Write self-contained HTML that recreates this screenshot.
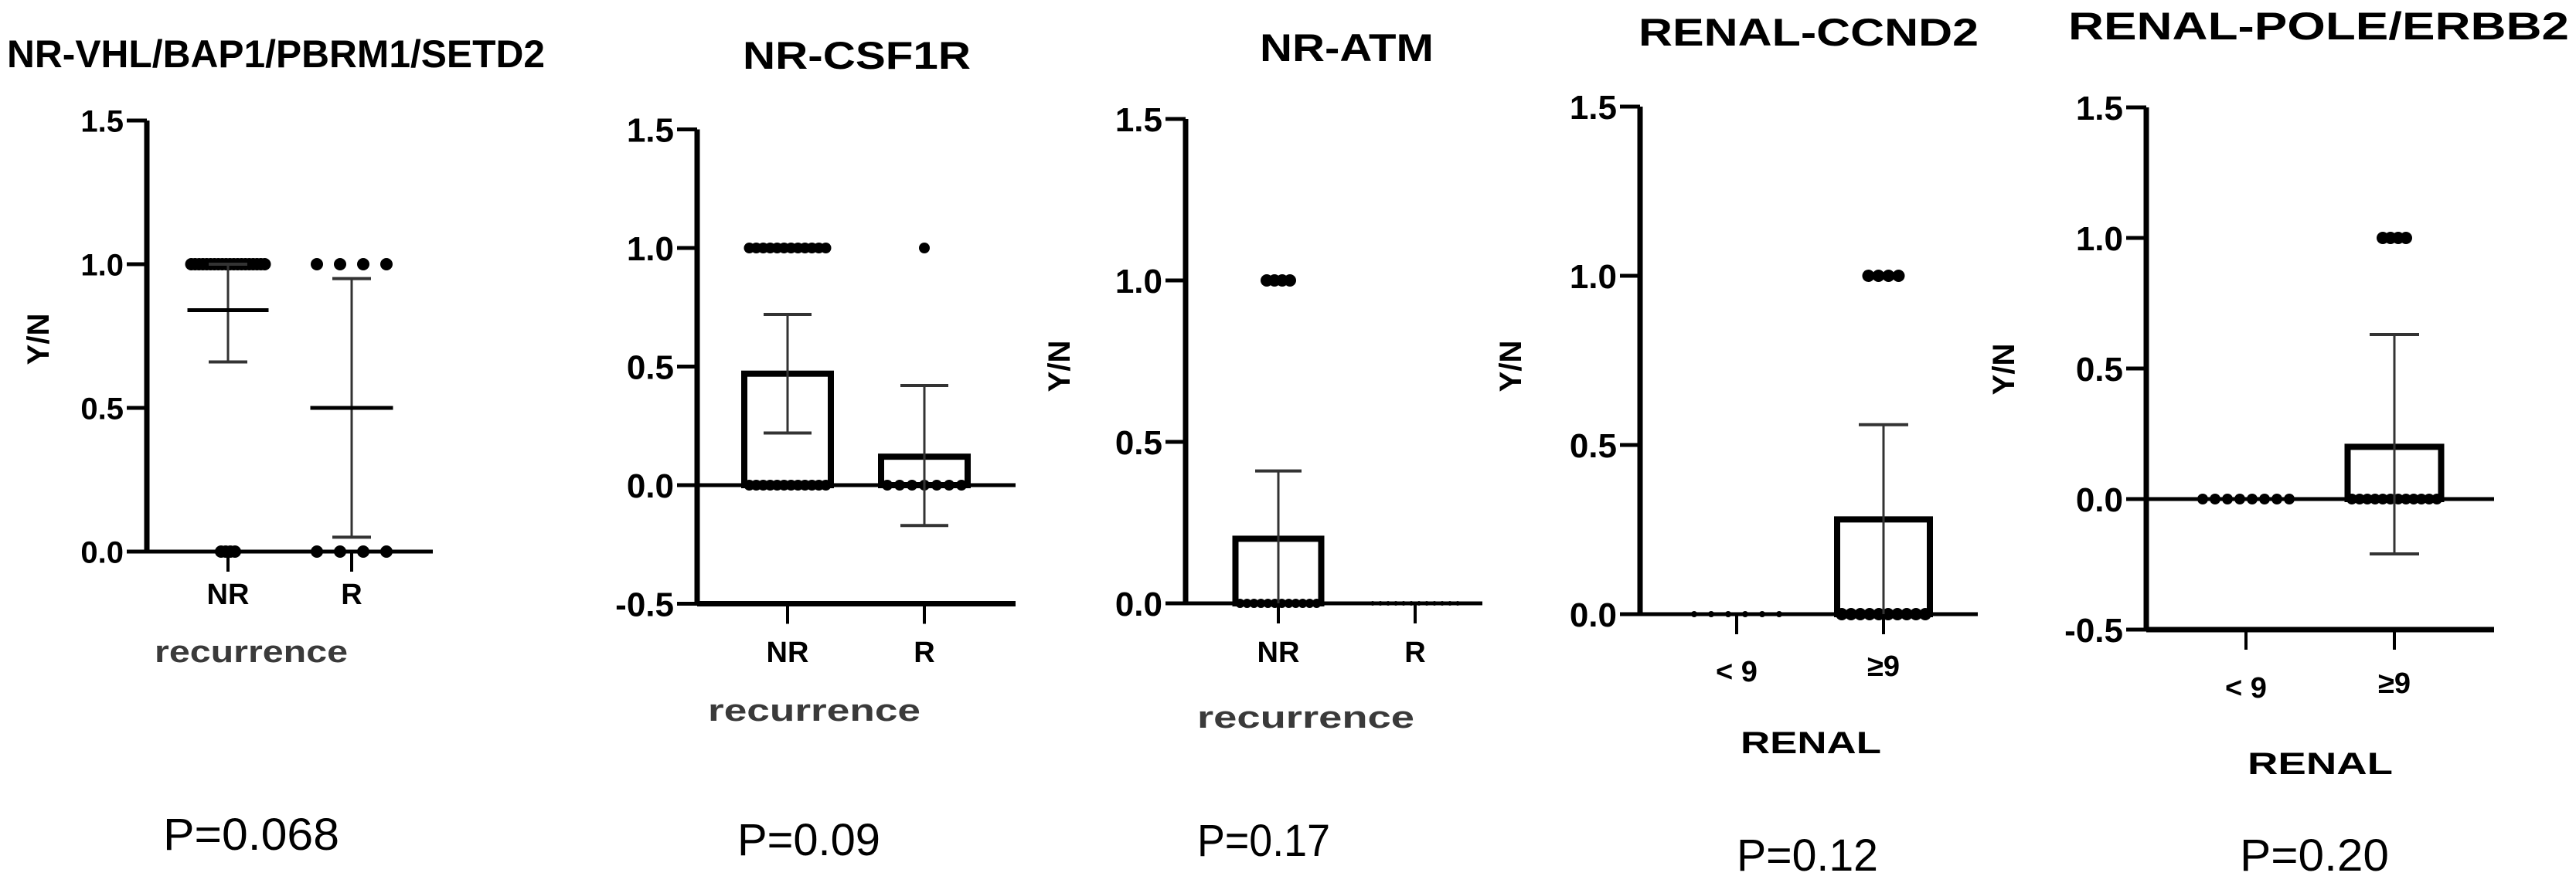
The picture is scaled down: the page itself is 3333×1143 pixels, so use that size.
<!DOCTYPE html>
<html><head><meta charset="utf-8">
<style>
html,body{margin:0;padding:0;background:#fff;}
svg{display:block;}
text{font-family:"Liberation Sans",Arial,sans-serif;}
</style></head>
<body>
<svg id="fig" width="3333" height="1143" viewBox="0 0 3333 1143" xmlns="http://www.w3.org/2000/svg"></svg>
<script>
// ---- data ----
const titles = ["NR-VHL/BAP1/PBRM1/SETD2","NR-CSF1R","NR-ATM","RENAL-CCND2","RENAL-POLE/ERBB2"];
const categories = [["NR","R"],["NR","R"],["NR","R"],["< 9","≥9"],["< 9","≥9"]];
const means = [[0.84,0.5],[0.47,0.12],[0.2,0],[0,0.28],[0,0.2]];
const sdLow = [[0.66,0.05],[0.22,-0.17],[0,0],[0,0],[0,-0.21]];
const sdHigh = [[1.0,0.95],[0.72,0.42],[0.41,0],[0,0.56],[0,0.63]];
const countsOne = [[20,4],[12,1],[4,0],[0,4],[0,4]];
const countsZero = [[4,4],[12,7],[12,12],[6,10],[8,12]];
const yTicks = [[0,0.5,1,1.5],[-0.5,0,0.5,1,1.5],[0,0.5,1,1.5],[0,0.5,1,1.5],[-0.5,0,0.5,1,1.5]];
const tickLabels = [["0.0","0.5","1.0","1.5"],["-0.5","0.0","0.5","1.0","1.5"],["0.0","0.5","1.0","1.5"],["0.0","0.5","1.0","1.5"],["-0.5","0.0","0.5","1.0","1.5"]];
const xTitles = ["recurrence","recurrence","recurrence","RENAL","RENAL"];
const pValues = ["P=0.068","P=0.09","P=0.17","P=0.12","P=0.20"];

// ---- layout (pixels, not data) ----
const L = [
 {ax:190,y0:714,ppu:372,xEnd:560,cx:[295,455],bar:false,bw:0,capW:[50,50],meanW:[105,107],r:[8,8],r0:[8,8],sp1:[5,30],sp0:[6,30],
  tfs:40,title:{x:9,y:87,w:696},yn:{x:49,y:439},catY:[782,782],catFs:38,xt:{x:200,y:857,w:250},pv:{x:211,y:1100,w:228}},
 {ax:902,y0:628,ppu:307,xEnd:1314,cx:[1019,1196],bar:true,bw:112,capW:[62,62],r:[7,7],r0:[7,7],sp1:[9,0],sp0:[9,16],
  tfs:44,title:{x:961,y:89,w:295},yn:null,catY:[857,857],catFs:38,xt:{x:916,y:933,w:275},pv:{x:954,y:1107,w:185}},
 {ax:1534,y0:781,ppu:418,xEnd:1918,cx:[1654,1831],bar:true,bw:111,capW:[60,60],r:[8,3],r0:[6,3],sp1:[10,0],sp0:[9,10],
  tfs:44,title:{x:1630,y:79,w:225},yn:{x:1370,y:474},catY:[857,857],catFs:38,xt:{x:1549,y:942,w:281},pv:{x:1549,y:1108,w:172}},
 {ax:2122,y0:795,ppu:438,xEnd:2559,cx:[2247,2437],bar:true,bw:120,capW:[64,64],r:[8,8],r0:[4,8],sp1:[13,13],sp0:[22,12],
  tfs:44,title:{x:2120,y:59,w:440},yn:{x:1954,y:474},catY:[882,875],catFs:38,xt:{x:2252,y:975,w:182},pv:{x:2247,y:1127,w:183}},
 {ax:2777,y0:646,ppu:338,xEnd:3227,cx:[2906,3098],bar:true,bw:121,capW:[64,64],r:[8,8],r0:[7,7],sp1:[10,10],sp0:[16,10],
  tfs:44,title:{x:2676,y:51,w:648},yn:{x:2592,y:478},catY:[903,897],catFs:38,xt:{x:2908,y:1002,w:188},pv:{x:2898,y:1127,w:193}}
];

const NS="http://www.w3.org/2000/svg";
const svg=document.getElementById('fig');
function mk(tag,attrs,parent){const e=document.createElementNS(NS,tag);for(const k in attrs)e.setAttribute(k,attrs[k]);(parent||svg).appendChild(e);return e;}

for(let p=0;p<5;p++){
  const c=L[p];
  const yMin=yTicks[p][0], yMax=yTicks[p][yTicks[p].length-1];
  const Y=v=>c.y0-v*c.ppu;
  const g=mk('g',{});
  
  

  const t=mk('text',{x:c.title.x,y:c.title.y,'font-size':50,'font-weight':'bold',textLength:c.title.w,lengthAdjust:'spacingAndGlyphs'},g);
  t.textContent=titles[p];
  
  

  const ya=mk('line',{x1:c.ax,y1:Y(yMax),x2:c.ax,y2:Y(yMin),stroke:'#000','stroke-width':7},g);
  
  
  yTicks[p].forEach((v,i)=>{
    mk('line',{x1:c.ax-26,y1:Y(v),x2:c.ax,y2:Y(v),stroke:'#000','stroke-width':5},g);
    const tl=mk('text',{x:c.ax-30,y:Y(v)+c.tfs*0.36,'font-size':c.tfs,'font-weight':'bold','text-anchor':'end'},g);
    tl.textContent=tickLabels[p][i];
    
    
  });
  const zl=mk('line',{x1:c.ax,y1:Y(0),x2:c.xEnd,y2:Y(0),stroke:'#000','stroke-width':5},g);
  
  
  const by=Y(yMin);
  if(yMin<0){
    const xa=mk('line',{x1:c.ax,y1:by,x2:c.xEnd,y2:by,stroke:'#000','stroke-width':7},g);
    
    
  }
  for(let k=0;k<2;k++){
    const cx=c.cx[k];
    mk('line',{x1:cx,y1:by,x2:cx,y2:by+26,stroke:'#000','stroke-width':4},g);
    const cl=mk('text',{x:cx,y:c.catY[k],'font-size':c.catFs,'font-weight':'bold','text-anchor':'middle'},g);
    cl.textContent=categories[p][k];
    
    

    const n1=countsOne[p][k], n0=countsZero[p][k];
    for(let i=0;i<n1;i++){
      const d=mk('circle',{cx:cx+(i-(n1-1)/2)*c.sp1[k],cy:Y(1),r:c.r[k],fill:'#000'},g);
      
      
    }
    for(let i=0;i<n0;i++){
      const d=mk('circle',{cx:cx+(i-(n0-1)/2)*c.sp0[k],cy:Y(0),r:c.r0[k],fill:'#000'},g);
      
      
    }
    if(c.bar && means[p][k]>0){
      const b=mk('rect',{x:cx-c.bw/2,y:Y(means[p][k]),width:c.bw,height:Y(0)-Y(means[p][k]),fill:'none',stroke:'#000','stroke-width':8},g);
      
      
    }
    if(sdHigh[p][k]!==sdLow[p][k]){
      const eb=mk('line',{x1:cx,y1:Y(sdHigh[p][k]),x2:cx,y2:Y(sdLow[p][k]),stroke:'#333','stroke-width':3},g);
      
      
      [sdHigh[p][k],sdLow[p][k]].forEach(v=>{
        if(c.bar && v===0) return;
        mk('line',{x1:cx-c.capW[k]/2,y1:Y(v),x2:cx+c.capW[k]/2,y2:Y(v),stroke:'#333','stroke-width':4},g);
      });
    }
    if(!c.bar){
      const ml=mk('line',{x1:cx-c.meanW[k]/2,y1:Y(means[p][k]),x2:cx+c.meanW[k]/2,y2:Y(means[p][k]),stroke:'#000','stroke-width':5},g);
      
      
    }
  }
  if(c.yn){
    const yn=mk('text',{x:0,y:0,'font-size':40,'font-weight':'bold','text-anchor':'middle',transform:'translate('+(c.yn.x+14)+','+c.yn.y+') rotate(-90)'},g);
    yn.textContent='Y/N';
    
    
  }
  const xt=mk('text',{x:c.xt.x,y:c.xt.y,'font-size':40,'font-weight':'bold',fill:p<3?'#3a3a3a':'#000',textLength:c.xt.w,lengthAdjust:'spacingAndGlyphs'},g);
  xt.textContent=xTitles[p];
  
  
  const pv=mk('text',{x:c.pv.x,y:c.pv.y,'font-size':58,textLength:c.pv.w,lengthAdjust:'spacingAndGlyphs'},g);
  pv.textContent=pValues[p];
  
  
}
</script>
</body></html>
